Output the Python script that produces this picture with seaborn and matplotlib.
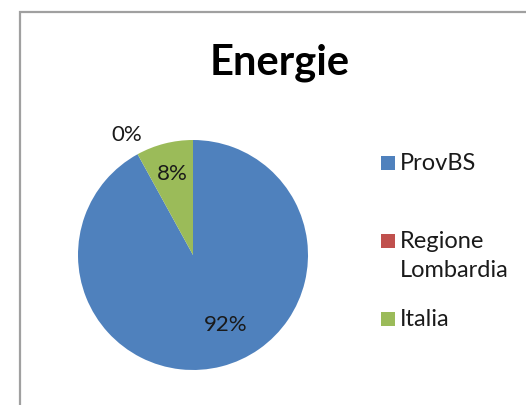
import matplotlib
matplotlib.use("Agg")
import matplotlib.pyplot as plt
import matplotlib.patches as mpatches
import numpy as np
import seaborn as sns

title = "Energie"
categories = ["ProvBS", "Regione\nLombardia", "Italia"]
shares = [92, 0, 8]
colors = ["#4F81BD", "#C0504D", "#9BBB59"]

sns.set_theme(style="white")
plt.rcParams["font.family"] = ["Lato", "DejaVu Sans"]

fig = plt.figure(figsize=(5.26, 4.06), dpi=100)
fig.patch.set_facecolor("white")

# chart area border (cut off on the right and bottom)
fig.patches.append(mpatches.Rectangle(
    (20 / 526, -0.2), 1.2, 1 - 13 / 406 + 0.2, transform=fig.transFigure,
    fill=False, edgecolor="#a0a0a0", linewidth=1.6))

fig.text(280 / 526, 1 - 63 / 406, title, ha="center", va="center",
         fontsize=30, fontweight="bold", color="black")

ax = fig.add_axes([78 / 526, 35 / 406, 230 / 526, 230 / 406])
wedges, texts, autotexts = ax.pie(
    shares, colors=colors, startangle=90, counterclock=False,
    autopct=lambda p: f"{p:.0f}%", pctdistance=0.7,
    wedgeprops=dict(linewidth=0),
    textprops=dict(fontsize=16, color="#1a1a1a"))
ax.set_xlim(-1, 1)
ax.set_ylim(-1, 1)
ax.set_aspect("equal")

# empty slices get their label outside the pie
for w, t, v in zip(wedges, autotexts, shares):
    ang = np.deg2rad((w.theta1 + w.theta2) / 2)
    if v == 0:
        t.set_position((1.2 * np.cos(ang), 1.2 * np.sin(ang)))
    elif v < 20:
        t.set_position((0.74 * np.cos(ang), 0.74 * np.sin(ang)))
    else:
        ang += np.deg2rad(11)
        t.set_position((0.66 * np.cos(ang), 0.66 * np.sin(ang)))

# legend, one slot per entry like excel does
base = 1 - 170 / 406
pitch = 78 / 406
for i, (lab, c) in enumerate(zip(categories, colors)):
    y = base - i * pitch
    fig.patches.append(mpatches.Rectangle(
        (381 / 526, y - 1 / 406), 14 / 526, 14 / 406,
        transform=fig.transFigure, facecolor=c, edgecolor="none"))
    first, *rest = lab.split("\n")
    fig.text(400 / 526, y, first, ha="left", va="baseline",
             fontsize=17, color="#1a1a1a")
    for j, line in enumerate(rest, start=1):
        fig.text(400 / 526, y - j * 29 / 406, line, ha="left",
                 va="baseline", fontsize=17, color="#1a1a1a")

fig.savefig("out.png", dpi=100)
